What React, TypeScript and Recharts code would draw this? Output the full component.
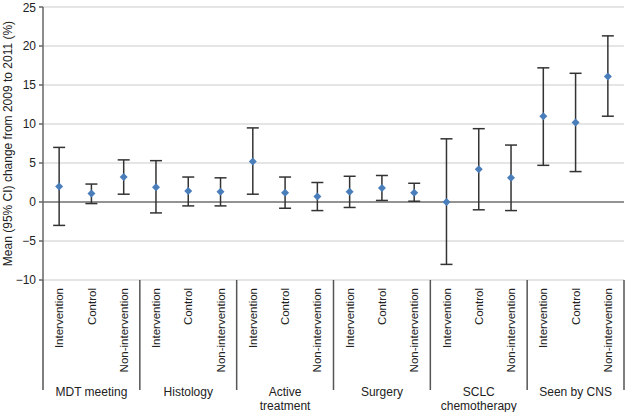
import React from "react";
import {
  ComposedChart,
  Line,
  ErrorBar,
  XAxis,
  YAxis,
  CartesianGrid,
  ReferenceLine,
} from "recharts";

const groups = [
  ["MDT meeting"],
  ["Histology"],
  ["Active", "treatment"],
  ["Surgery"],
  ["SCLC", "chemotherapy"],
  ["Seen by CNS"],
];
const arms = ["Intervention", "Control", "Non-intervention"];

const means = [2.0, 1.1, 3.2, 1.9, 1.4, 1.3, 5.2, 1.2, 0.7, 1.3, 1.8, 1.2, 0.0, 4.2, 3.1, 11.0, 10.2, 16.1];
const lower = [-3.0, -0.2, 1.0, -1.4, -0.5, -0.5, 1.0, -0.8, -1.1, -0.7, 0.2, 0.1, -8.0, -1.0, -1.1, 4.7, 3.9, 11.0];
const upper = [7.0, 2.3, 5.4, 5.3, 3.2, 3.1, 9.5, 3.2, 2.5, 3.3, 3.4, 2.4, 8.1, 9.4, 7.3, 17.2, 16.5, 21.3];

const yTicks = [-10, -5, 0, 5, 10, 15, 20, 25];

const W = 625;
const H = 412;
const Y_AXIS_W = 43;
const RIGHT = 1;
const FONT = "'Liberation Sans', Arial, Helvetica, sans-serif";

const data = means.map((m, i) => ({
  key: `${i}`,
  arm: arms[i % 3],
  group: Math.floor(i / 3),
  mean: m,
  err: [m - lower[i], upper[i] - m],
}));

const Diamond = (props: any) => {
  const { cx, cy } = props;
  if (cx == null || cy == null) return null;
  const r = 4;
  return (
    <polygon
      points={`${cx},${cy - r} ${cx + r},${cy} ${cx},${cy + r} ${cx - r},${cy}`}
      fill="#4a7ebb"
    />
  );
};

const CategoryTick = (props: any) => {
  const { x, y, payload } = props;
  const i = payload.index;
  const band = (W - Y_AXIS_W - RIGHT) / data.length;
  const d = data[i];
  const lines = groups[d.group];
  return (
    <g>
      <text
        x={x}
        y={y + 8}
        transform={`rotate(-90, ${x}, ${y + 8})`}
        textAnchor="end"
        dy="0.36em"
        fontSize={11.5}
        fontFamily={FONT}
        fill="#222"
      >
        {d.arm}
      </text>
      {i % 3 === 0 && (
        <line x1={x - band / 2} x2={x - band / 2} y1={y} y2={y + 110} stroke="#555" strokeWidth={1.5} />
      )}
      {i === data.length - 1 && (
        <line x1={x + band / 2} x2={x + band / 2} y1={y} y2={y + 110} stroke="#555" strokeWidth={1.5} />
      )}
      {i % 3 === 1 &&
        lines.map((t, k) => (
          <text
            key={k}
            x={x}
            y={y + 116 + k * 14}
            textAnchor="middle"
            fontSize={12}
            fontFamily={FONT}
            fill="#222"
          >
            {t}
          </text>
        ))}
    </g>
  );
};

export default function App() {
  return (
    <div style={{ position: "absolute", left: 0, top: 0, width: W, height: H, background: "#fff" }}>
      <ComposedChart
        width={W}
        height={H}
        data={data}
        margin={{ top: 7, right: RIGHT, bottom: 0, left: 0 }}
      >
        <CartesianGrid vertical={false} stroke="#dcdcdc" strokeWidth={1.5} />
        <XAxis
          dataKey="key"
          scale="band"
          interval={0}
          axisLine={false}
          tickLine={false}
          tickSize={0}
          tickMargin={0}
          height={132}
          tick={<CategoryTick />}
        />
        <YAxis
          domain={[-10, 25]}
          ticks={yTicks}
          width={Y_AXIS_W}
          axisLine={{ stroke: "#666", strokeWidth: 1.5 }}
          tickLine={{ stroke: "#666", strokeWidth: 1.5 }}
          tickSize={4}
          tickMargin={3}
          tickFormatter={(v: number) => `${v}`.replace("-", "\u2212")}
          tick={{ fill: "#222", fontSize: 12, fontFamily: FONT }}
          label={{
            value: "Mean (95% CI) change from 2009 to 2011 (%)",
            angle: -90,
            position: "insideLeft",
            offset: 0,
            dx: 8,
            style: { textAnchor: "middle", fill: "#222", fontSize: 12, fontFamily: FONT },
          }}
        />
        <ReferenceLine y={0} stroke="#777" strokeWidth={1.5} />
        <Line
          dataKey="mean"
          stroke="none"
          dot={<Diamond />}
          activeDot={false}
          isAnimationActive={false}
        >
          <ErrorBar dataKey="err" width={6} stroke="#333" strokeWidth={1.5} direction="y" />
        </Line>
      </ComposedChart>
    </div>
  );
}
